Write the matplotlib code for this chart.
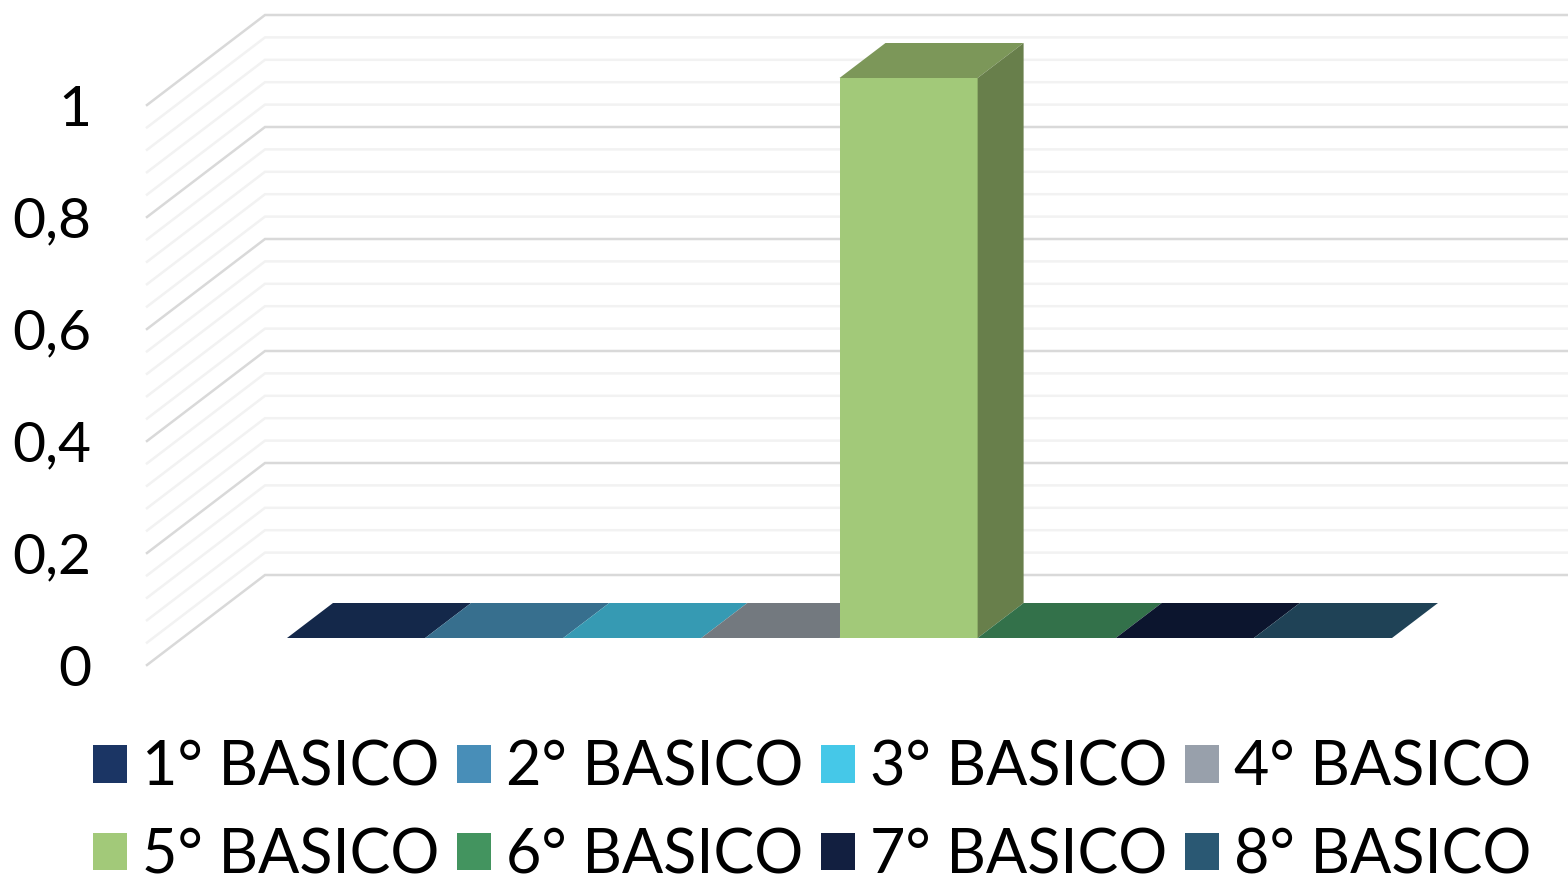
import matplotlib
matplotlib.use('Agg')
import matplotlib.pyplot as plt
from matplotlib.patches import Patch, Polygon

# Data
categories = ['1° BASICO', '2° BASICO', '3° BASICO', '4° BASICO',
              '5° BASICO', '6° BASICO', '7° BASICO', '8° BASICO']
values = [0, 0, 0, 0, 1, 0, 0, 0]
tick_values = [0, 0.2, 0.4, 0.6, 0.8, 1]
tick_labels = ['0', '0,2', '0,4', '0,6', '0,8', '1']
minor_values = [0.04, 0.08, 0.12, 0.16, 0.24, 0.28, 0.32, 0.36, 0.44, 0.48, 0.52, 0.56,
                0.64, 0.68, 0.72, 0.76, 0.84, 0.88, 0.92, 0.96]

# Colours
front_colors = ['#1B3564', '#488EB8', '#45C8E8', '#98A0AB',
                '#A2C979', '#43945F', '#121F40', '#2A5873']
top_colors = ['#14284A', '#376F8E', '#369AB3', '#73797F',
              '#7C9759', '#33714A', '#0C152E', '#1F4256']
side_colors = ['#102038', '#2C5871', '#2B7B8F', '#5C6166',
               '#687F4B', '#295B3B', '#0A1125', '#193545']

W, H = 1568, 877
plt.rcParams['font.family'] = ['Lato', 'DejaVu Sans']
fig = plt.figure(figsize=(W / 100, H / 100), dpi=100)


def rect(left, right, top, bottom):
    return [left / W, 1 - bottom / H, (right - left) / W, (bottom - top) / H]


# Grid axes: front edge of the 3D walls
ax_grid = fig.add_axes(rect(147, 1568, 105, 665))
ax_grid.set_xlim(0, 1421)
ax_grid.set_ylim(0, 1)
wall_dx = 118
wall_dy = 90 / 560
for v in minor_values:
    ax_grid.plot([0, wall_dx, 1421], [v, v + wall_dy, v + wall_dy], color='#F2F2F2', lw=1.8,
                 clip_on=False, solid_joinstyle='miter')
for v in tick_values:
    ax_grid.plot([0, wall_dx, 1421], [v, v + wall_dy, v + wall_dy], color='#D9D9D9', lw=1.8,
                 clip_on=False, solid_joinstyle='miter')
ax_grid.set_xticks([])
ax_grid.set_yticks(tick_values)
ax_grid.set_yticklabels(tick_labels, fontsize=41, color='black')
ax_grid.tick_params(axis='y', length=0, pad=40)
for s in ax_grid.spines.values():
    s.set_visible(False)
ax_grid.patch.set_alpha(0)

# Bar axes: front plane of the bars
ax = fig.add_axes(rect(287, 1392, 78, 638))
ax.set_xlim(0, 8)
ax.set_ylim(0, 1)
ax.axis('off')
depth_x = 46 / 138.2
depth_y = 35 / 560
for i, v in enumerate(values):
    ax.bar(i, v, width=1, align='edge', color=front_colors[i], clip_on=False, zorder=2 + i)
    top = [(i, v), (i + 1, v), (i + 1 + depth_x, v + depth_y), (i + depth_x, v + depth_y)]
    ax.add_patch(Polygon(top, closed=True, facecolor=top_colors[i], edgecolor='none',
                         clip_on=False, zorder=2 + i))
    if v > 0:
        side = [(i + 1, 0), (i + 1 + depth_x, depth_y), (i + 1 + depth_x, v + depth_y), (i + 1, v)]
        ax.add_patch(Polygon(side, closed=True, facecolor=side_colors[i], edgecolor='none',
                             clip_on=False, zorder=2 + i))

# Legend, filled column by column so reorder to read across the rows
order = [0, 4, 1, 5, 2, 6, 3, 7]
handles = [Patch(facecolor=front_colors[i], edgecolor='none') for i in order]
labels = [categories[i] for i in order]
fig.legend(handles, labels, ncol=4, fontsize=44, frameon=False,
           loc='center', bbox_to_anchor=(812 / W, 1 - 812 / H),
           handlelength=0.57, handleheight=0.57, handletextpad=0.24,
           columnspacing=0.28, labelspacing=0.5, borderpad=0, borderaxespad=0)

fig.savefig('out.png', dpi=100)
